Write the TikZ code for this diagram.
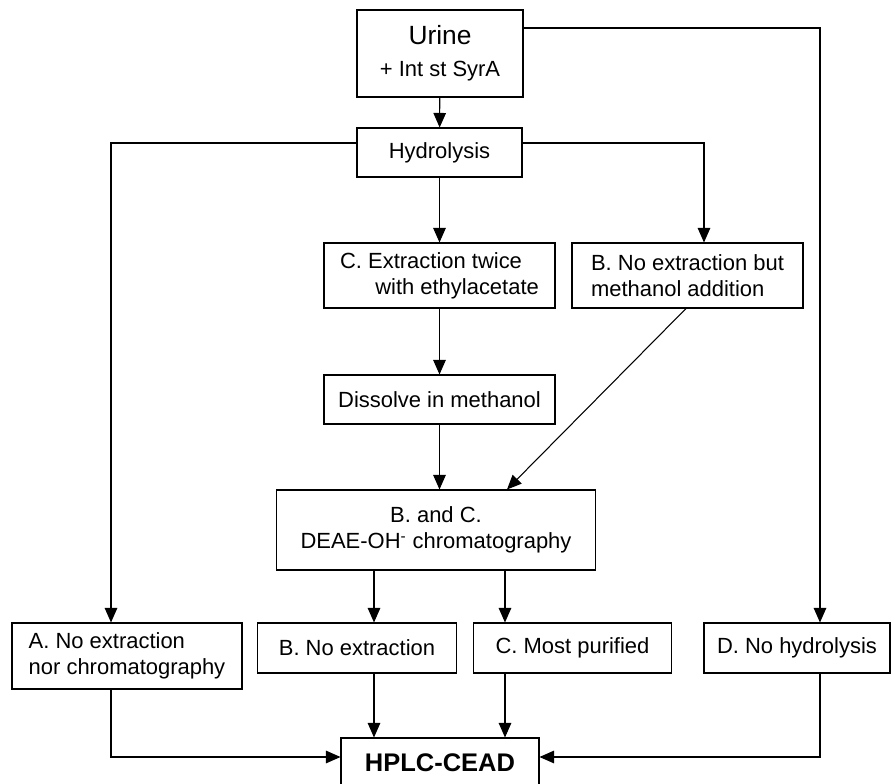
\documentclass[tikz,border=0pt]{standalone}
\usepackage{fontspec}
\setmainfont{Liberation Sans}
\usetikzlibrary{arrows.meta,positioning}

\begin{document}
\begin{tikzpicture}[x=0.02cm, y=-0.02cm, >={Triangle[length=0.29cm,width=0.25cm]}, line width=0.6pt,
  stage/.style={draw, inner sep=0pt, align=center, font=\fontsize{12.5}{15}\selectfont},
  wide/.style={stage, minimum width=4.62cm},
  low/.style={stage, minimum width=3.97cm, minimum height=1.0cm}]
  \useasboundingbox (0,0) rectangle (894,784);
  \node[stage, minimum width=3.32cm, minimum height=1.74cm] (urine) at (440,53.5)
    {{\fontsize{15}{17}\selectfont Urine}\\[3pt]+ Int st SyrA};
  \node[stage, minimum width=3.3cm, minimum height=0.98cm] (hydro) at (439.5,152.5) {Hydrolysis};
  \node[wide, minimum height=1.3cm, align=left] (extract) at (439.5,275.5)
    {C. Extraction twice\\\hspace*{1.6em}with ethylacetate};
  \node[wide, minimum height=1.3cm, align=left] (methadd) at (687.5,275.5)
    {B. No extraction but\\methanol addition};
  \node[wide, minimum height=0.98cm] (dissolve) at (439.5,399.5) {Dissolve in methanol};
  \node[stage, minimum width=6.4cm, minimum height=1.6cm] (deae) at (436,530)
    {B. and C.\\DEAE-OH\textsuperscript{-} chromatography};
  \node[stage, minimum width=4.6cm, minimum height=1.32cm, align=left] (noextr) at (127,656)
    {A. No extraction\\nor chromatography};
  \node[low] (bnoext) at (357,648) {B. No extraction};
  \node[low] (cpure) at (572.5,648) {C. Most purified};
  \node[low, minimum width=3.72cm] (nohydro) at (797,648) {D. No hydrolysis};
  \node[stage, minimum width=3.96cm, minimum height=1.0cm, font=\fontsize{14.5}{16}\selectfont\bfseries] (hplc) at (440,763) {HPLC-CEAD};

  \draw[->] (urine) -- (hydro);
  \draw[->] ([yshift=0.51cm]urine.east) -| ([xshift=0.46cm]nohydro.north);
  \draw[->] ([yshift=0.19cm]hydro.west) -| ([xshift=-0.32cm]noextr.north);
  \draw[->] ([yshift=0.19cm]hydro.east) -| ([xshift=0.33cm]methadd.north);
  \draw[->] (hydro) -- (extract);
  \draw[->] (extract) -- (dissolve);
  \draw[->] (dissolve) -- (dissolve |- deae.north);
  \draw[->] ([xshift=-0.03cm]methadd.south) -- ([xshift=1.42cm]deae.north);
  \draw[->] ([xshift=-1.24cm]deae.south) -- ([xshift=-1.24cm]deae.south |- bnoext.north);
  \draw[->] ([xshift=1.38cm]deae.south) -- ([xshift=1.38cm]deae.south |- cpure.north);
  \draw[->] ([xshift=0.34cm]bnoext.south) -- ([xshift=0.34cm]bnoext.south |- hplc.north);
  \draw[->] ([xshift=-1.35cm]cpure.south) -- ([xshift=-1.35cm]cpure.south |- hplc.north);
  \draw[->] ([xshift=-0.32cm]noextr.south) |- ([yshift=0.12cm]hplc.west);
  \draw[->] ([xshift=0.46cm]nohydro.south) |- ([yshift=0.12cm]hplc.east);
\end{tikzpicture}
\end{document}
